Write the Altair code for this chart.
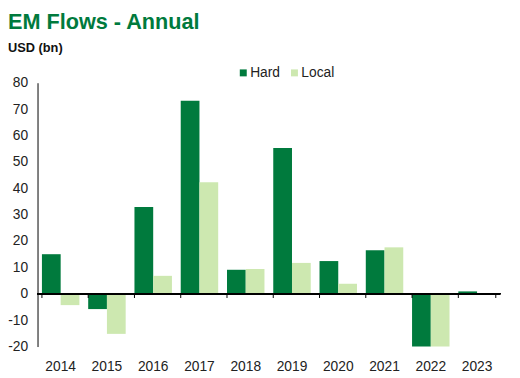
import altair as alt
import pandas as pd

years = ["2014", "2015", "2016", "2017", "2018", "2019", "2020", "2021", "2022", "2023"]
hard = [15.0, -5.8, 32.9, 73.2, 9.1, 55.3, 12.4, 16.5, -20.0, 0.9]
local = [-4.3, -15.2, 6.8, 42.3, 9.4, 11.7, 3.8, 17.6, -20.0, 0.0]
series = ["Hard", "Local"]
colors = ["#007A3D", "#CDE8B0"]
yticks = [-20, -10, 0, 10, 20, 30, 40, 50, 60, 70, 80]

rows = []
for i, y in enumerate(years):
    rows.append({"year": y, "series": "Hard", "value": hard[i]})
    rows.append({"year": y, "series": "Local", "value": local[i]})
df = pd.DataFrame(rows)
ticks_df = pd.DataFrame({"year": years})
last_df = pd.DataFrame({"year": [years[-1]]})

FONT = "Liberation Sans"

xscale = alt.Scale(domain=years, paddingInner=0.19, paddingOuter=0.095)
yscale = alt.Scale(domain=[-20, 80], nice=False, zero=False)
xaxis = alt.Axis(title=None, domain=False, ticks=False, labelAngle=0,
                 labelFontSize=14, labelColor="#222222", labelFont=FONT,
                 labelPadding=13)
yaxis = alt.Axis(title=None, values=yticks, grid=False, ticks=False,
                 domain=True, domainColor="#000000", domainWidth=1,
                 labelOverlap=False, labelExpr="'' + datum.value",
                 labelFontSize=14, labelColor="#222222", labelFont=FONT,
                 labelPadding=10)

bars = alt.Chart(df).mark_bar().encode(
    x=alt.X("year:N", scale=xscale, sort=years, axis=xaxis),
    xOffset=alt.XOffset("series:N", sort=series, scale=alt.Scale(paddingInner=0, paddingOuter=0)),
    y=alt.Y("value:Q", scale=yscale, axis=yaxis),
    color=alt.Color("series:N", sort=series,
                    scale=alt.Scale(domain=series, range=colors),
                    legend=alt.Legend(title=None, orient="none", direction="horizontal",
                                      legendX=202, legendY=-17, symbolType="square",
                                      symbolSize=50, symbolStrokeWidth=0,
                                      labelFontSize=14, labelFont=FONT, labelColor="#222222",
                                      columnPadding=7, symbolOffset=0, labelOffset=0)),
)

zero = alt.Chart(df).mark_rule(color="#000000", strokeWidth=1).encode(
    y=alt.Y(datum=0, scale=yscale, axis=yaxis))

tick1 = alt.Chart(ticks_df).mark_rule(color="#000000", strokeWidth=1).encode(
    x=alt.X("year:N", scale=xscale, sort=years, bandPosition=0, axis=xaxis),
    y=alt.Y(datum=0, scale=yscale, axis=yaxis), y2=alt.Y2(datum=-1.6),
)
tick2 = alt.Chart(last_df).mark_rule(color="#000000", strokeWidth=1).encode(
    x=alt.X("year:N", scale=xscale, sort=years, bandPosition=1, axis=xaxis),
    y=alt.Y(datum=0, scale=yscale, axis=yaxis), y2=alt.Y2(datum=-1.6),
)

chart = alt.layer(bars, zero, tick1, tick2).properties(
    width=470, height=268,
    autosize=alt.AutoSizeParams(type="none"),
    padding={"left": 30, "top": 73, "right": 12, "bottom": 26},
    title=alt.Title("EM Flows - Annual", subtitle="USD (bn)", anchor="start", frame="group",
                    dx=-30, offset=10, fontSize=22, fontWeight="bold",
                    font=FONT,
                    color="#007A3D", subtitleFont=FONT, subtitleFontWeight="bold",
                    subtitleFontSize=13, subtitleColor="#111111", subtitlePadding=9),
).configure_view(stroke=None)

chart.save("out.html", embed_options={"renderer": "svg", "actions": False})
